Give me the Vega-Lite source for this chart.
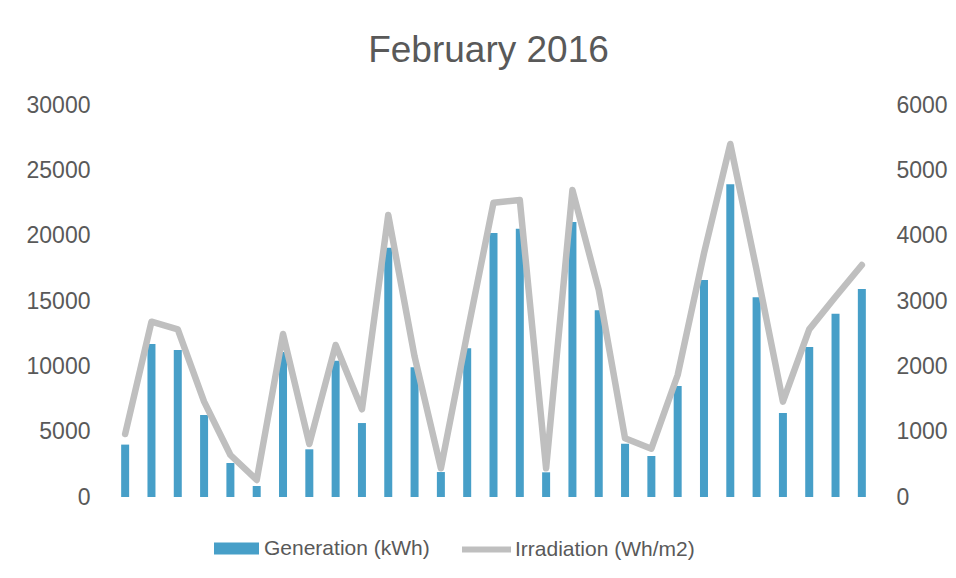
{
  "$schema": "https://vega.github.io/schema/vega-lite/v6.json",
  "width": 763,
  "height": 392,
  "autosize": {"type": "none"},
  "padding": {"left": 112, "top": 105, "right": 81, "bottom": 81},
  "background": "white",
  "config": {
    "font": "Liberation Sans",
    "view": {"stroke": null},
    "axis": {"labelFont": "Liberation Sans", "labelColor": "#595959", "labelFontSize": 23, "grid": false, "ticks": false, "domain": false, "title": null, "format": "d"},
    "legend": {"labelFont": "Liberation Sans", "labelColor": "#595959", "labelFontSize": 21, "padding": 0, "title": null, "labelLimit": 0}
  },
  "title": {"text": "February 2016", "fontSize": 37, "fontWeight": "normal", "color": "#595959", "font": "Liberation Sans", "anchor": "middle", "offset": 24, "dx": -5},
  "data": {"values": [
    {"day": 1, "gen": 4010, "irr": 964},
    {"day": 2, "gen": 11710, "irr": 2683},
    {"day": 3, "gen": 11250, "irr": 2566},
    {"day": 4, "gen": 6275, "irr": 1459},
    {"day": 5, "gen": 2600, "irr": 643},
    {"day": 6, "gen": 840, "irr": 260},
    {"day": 7, "gen": 11100, "irr": 2495},
    {"day": 8, "gen": 3650, "irr": 811},
    {"day": 9, "gen": 10430, "irr": 2327},
    {"day": 10, "gen": 5660, "irr": 1342},
    {"day": 11, "gen": 19080, "irr": 4316},
    {"day": 12, "gen": 9925, "irr": 2150},
    {"day": 13, "gen": 1910, "irr": 439},
    {"day": 14, "gen": 11380, "irr": 2500},
    {"day": 15, "gen": 20200, "irr": 4505},
    {"day": 16, "gen": 20530, "irr": 4546},
    {"day": 17, "gen": 1890, "irr": 439},
    {"day": 18, "gen": 21045, "irr": 4699},
    {"day": 19, "gen": 14290, "irr": 3168},
    {"day": 20, "gen": 4080, "irr": 898},
    {"day": 21, "gen": 3140, "irr": 740},
    {"day": 22, "gen": 8495, "irr": 1867},
    {"day": 23, "gen": 16610, "irr": 3730},
    {"day": 24, "gen": 23930, "irr": 5403},
    {"day": 25, "gen": 15280, "irr": 3474},
    {"day": 26, "gen": 6430, "irr": 1459},
    {"day": 27, "gen": 11480, "irr": 2566},
    {"day": 28, "gen": 14030, "irr": 3066},
    {"day": 29, "gen": 15920, "irr": 3551}
  ]},
  "encoding": {
    "x": {"field": "day", "type": "ordinal", "axis": null, "scale": {"paddingInner": 0, "paddingOuter": 0}}
  },
  "layer": [
    {
      "mark": {"type": "bar", "width": 8},
      "encoding": {
        "y": {"field": "gen", "type": "quantitative", "scale": {"domain": [0, 30000]}, "axis": {"orient": "left", "values": [0, 5000, 10000, 15000, 20000, 25000, 30000], "labelPadding": 22}},
        "color": {"datum": "Generation (kWh)", "scale": {"range": ["#479FC8"]}, "legend": {"orient": "none", "legendX": 102, "legendY": 421, "symbolType": "M-1,-0.267H1V0.267H-1Z", "symbolSize": 2025, "symbolStrokeWidth": 0, "symbolOpacity": 1, "labelOffset": 5}}
      }
    },
    {
      "mark": {"type": "line", "color": "#BFBFBF", "strokeWidth": 6.5, "strokeCap": "round", "strokeJoin": "round"},
      "encoding": {
        "y": {"field": "irr", "type": "quantitative", "scale": {"domain": [0, 6000]}, "axis": {"orient": "right", "values": [0, 1000, 2000, 3000, 4000, 5000, 6000], "labelPadding": 21}},
        "stroke": {"datum": "Irradiation (Wh/m2)", "scale": {"range": ["#BFBFBF"]}, "legend": {"orient": "none", "legendX": 347, "legendY": 417, "symbolType": "stroke", "symbolSize": 2401, "symbolStrokeWidth": 6, "labelOffset": 1}}
      }
    }
  ],
  "resolve": {"scale": {"y": "independent", "color": "independent", "stroke": "independent"}}
}
